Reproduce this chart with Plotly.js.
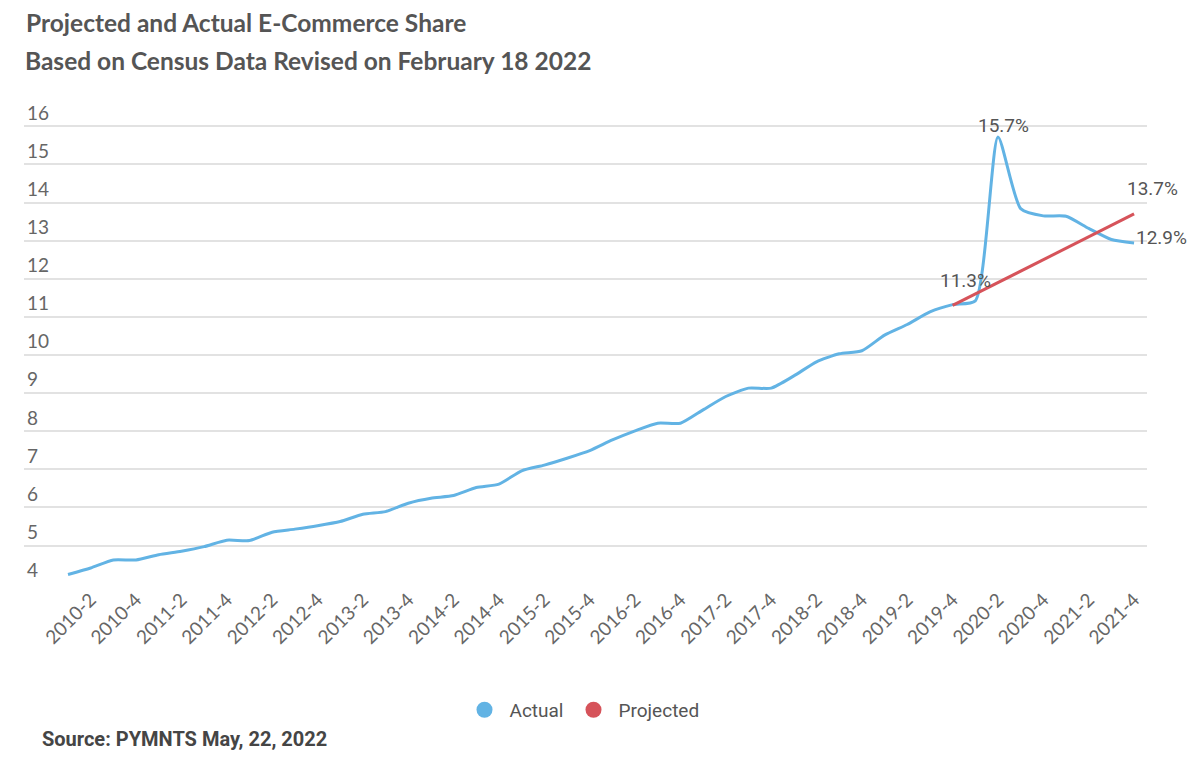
<!DOCTYPE html>
<html>
<head>
<meta charset="utf-8">
<script src="https://cdn.plot.ly/plotly-3.0.1.min.js"></script>
<style>
  html, body { margin: 0; padding: 0; background: #fff; }
  #chart { width: 1198px; height: 761px; }
</style>
</head>
<body>
<div id="chart"></div>
<script>
// ---- data ----
const quarters = [
  "2010-1","2010-2","2010-3","2010-4","2011-1","2011-2","2011-3","2011-4",
  "2012-1","2012-2","2012-3","2012-4","2013-1","2013-2","2013-3","2013-4",
  "2014-1","2014-2","2014-3","2014-4","2015-1","2015-2","2015-3","2015-4",
  "2016-1","2016-2","2016-3","2016-4","2017-1","2017-2","2017-3","2017-4",
  "2018-1","2018-2","2018-3","2018-4","2019-1","2019-2","2019-3","2019-4",
  "2020-1","2020-2","2020-3","2020-4","2021-1","2021-2","2021-3","2021-4"
];
const actual = [
  4.24, 4.41, 4.62, 4.62, 4.76, 4.85, 4.97, 5.14,
  5.13, 5.35, 5.43, 5.52, 5.63, 5.82, 5.89, 6.11,
  6.24, 6.31, 6.52, 6.61, 6.96, 7.11, 7.29, 7.49,
  7.77, 8.01, 8.21, 8.21, 8.56, 8.91, 9.13, 9.13,
  9.45, 9.82, 10.03, 10.11, 10.52, 10.80, 11.13, 11.32,
  11.42, 15.72, 13.84, 13.65, 13.64, 13.32, 13.03, 12.94
];
const projectedQuarters = ["2019-4", "2021-4"];
const projected = [11.3, 13.7];
const tickLabels = [
  "2010-2","2010-4","2011-2","2011-4","2012-2","2012-4","2013-2","2013-4",
  "2014-2","2014-4","2015-2","2015-4","2016-2","2016-4","2017-2","2017-4",
  "2018-2","2018-4","2019-2","2019-4","2020-2","2020-4","2021-2","2021-4"
];
const seriesNames = ["Actual", "Projected"];

// ---- styles / geometry ----
const blue = "#62B3E4";
const red = "#D6535A";
const grey = "#555555";
const W = 1198, H = 761;
const plotLeft = 24, plotRight = 1147;
const yBottomPx = 584, y16Px = 126, unitPx = (584 - 126) / 12;
const yMin = 3.99, yTop = 16.9;
const topPx = y16Px - (yTop - 16) * unitPx;
const plotH = yBottomPx - topPx;
const pyPaper = px => (yBottomPx - px) / plotH;                     // page row -> paper y
const pxPaper = px => (px - plotLeft) / (plotRight - plotLeft);     // page col -> paper x

const traces = [
  {
    x: quarters, y: actual, type: "scatter", mode: "lines",
    line: { color: blue, width: 3, shape: "spline", smoothing: 0.6 },
    showlegend: false, hoverinfo: "x+y"
  },
  {
    x: projectedQuarters, y: projected, type: "scatter", mode: "lines",
    line: { color: red, width: 3 },
    showlegend: false, hoverinfo: "x+y"
  },
  {
    x: [null], y: [null], type: "scatter", mode: "markers", name: seriesNames[0],
    marker: { color: blue, size: 17, symbol: "circle" }
  },
  {
    x: [null], y: [null], type: "scatter", mode: "markers", name: seriesNames[1],
    marker: { color: red, size: 17, symbol: "circle" }
  }
];

const labelFont = { family: "Roboto, 'Open Sans', sans-serif", size: 19, color: grey };
const iPeak = actual.indexOf(Math.max(...actual));
const iLast = actual.length - 1;

const annotations = [
  { x: quarters[iPeak], y: actual[iPeak], text: actual[iPeak].toFixed(1) + "%",
    showarrow: false, xanchor: "center", yanchor: "bottom", xshift: 6, yshift: -2, font: labelFont },
  { x: projectedQuarters[0], y: projected[0], text: projected[0].toFixed(1) + "%",
    showarrow: false, xanchor: "center", yanchor: "bottom", xshift: 13, yshift: 11, font: labelFont },
  { x: projectedQuarters[1], y: projected[1], text: projected[1].toFixed(1) + "%",
    showarrow: false, xanchor: "center", yanchor: "bottom", xshift: 18, yshift: 12, font: labelFont },
  { x: quarters[iLast], y: actual[iLast], text: actual[iLast].toFixed(1) + "%",
    showarrow: false, xanchor: "left", yanchor: "middle", xshift: 0, yshift: 5, font: labelFont },
  { xref: "paper", yref: "paper", x: pxPaper(23), y: pyPaper(60), xanchor: "left", yanchor: "middle",
    text: "<b>Based on Census Data Revised on February 18 2022</b>", showarrow: false,
    font: { family: "Lato, sans-serif", size: 24.5, color: grey } },
  { xref: "paper", yref: "paper", x: pxPaper(40), y: pyPaper(739), xanchor: "left", yanchor: "middle",
    text: "<b>Source: PYMNTS May, 22, 2022</b>", showarrow: false,
    font: { family: "Roboto, sans-serif", size: 20, color: "#454545" } }
];

const layout = {
  width: W, height: H,
  paper_bgcolor: "#fff", plot_bgcolor: "#fff",
  margin: { l: plotLeft, r: W - plotRight, t: topPx, b: H - yBottomPx },
  title: {
    text: "<b>Projected and Actual E-Commerce Share</b>",
    x: 26 / W, xanchor: "left", xref: "container",
    y: 1 - 23 / H, yanchor: "middle", yref: "container",
    font: { family: "Lato, sans-serif", size: 24.5, color: grey }
  },
  xaxis: {
    type: "category",
    categoryorder: "array", categoryarray: quarters,
    range: [-1.94, 47.57],
    tickmode: "array", tickvals: tickLabels, ticktext: tickLabels,
    tickangle: -45,
    showgrid: false, zeroline: false, showline: false,
    ticks: "",
    tickfont: { family: "Lato, sans-serif", size: 19, color: "#666" }
  },
  yaxis: {
    range: [yMin, yTop],
    tickmode: "linear", tick0: 4, dtick: 1,
    ticklabelposition: "inside top",
    showgrid: true, gridcolor: "#e2e2e2", gridwidth: 1.5,
    zeroline: false, showline: false, ticks: "",
    tickfont: { family: "Lato, sans-serif", size: 19, color: "#666" }
  },
  legend: {
    orientation: "h", x: pxPaper(582), xanchor: "center", y: pyPaper(710), yanchor: "middle",
    font: { family: "Roboto, sans-serif", size: 19, color: grey },
    itemsizing: "trace", itemwidth: 40
  },
  annotations: annotations,
  hovermode: "closest"
};

Plotly.newPlot("chart", traces, layout, { displayModeBar: false });
</script>
</body>
</html>
